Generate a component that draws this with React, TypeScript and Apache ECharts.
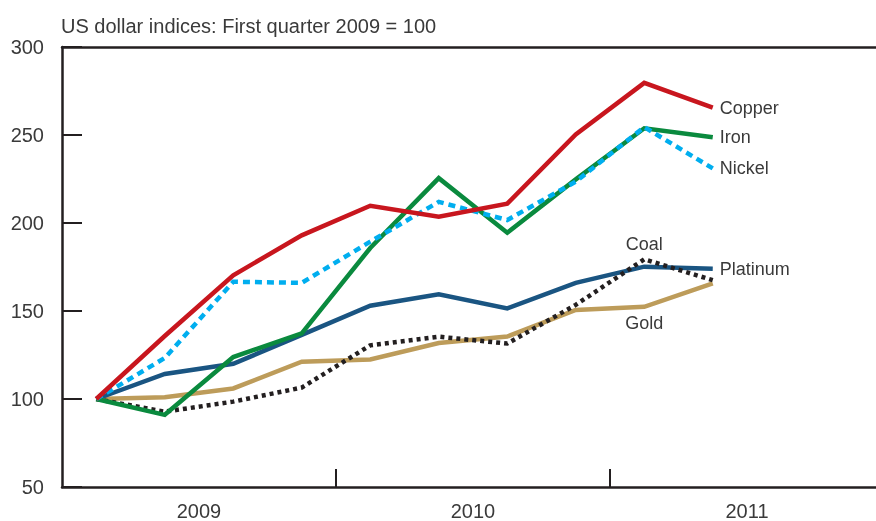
import React, { useEffect, useRef } from "react";
import * as echarts from "echarts";

const quarters = ["2009Q1","2009Q2","2009Q3","2009Q4","2010Q1","2010Q2","2010Q3","2010Q4","2011Q1","2011Q2"];
const yearLabels = ["2009", "2010", "2011"];
const yTicks = [50, 100, 150, 200, 250, 300];

const copper = [100, 135.8, 170.3, 193, 209.8, 203.6, 211, 250.3, 279.6, 265.5];
const iron = [100, 91, 123.8, 137.3, 185.8, 225.5, 194.5, 224.8, 253.8, 248.7];
const nickel = [100, 123.3, 166.6, 166, 189.4, 212, 201.7, 223.5, 254.5, 231];
const platinum = [100, 114.2, 120, 136.4, 153, 159.5, 151.5, 166, 175.2, 174];
const gold = [100, 101, 106, 121.2, 122.5, 131.8, 135.5, 150.6, 152.4, 165.7];
const coal = [100, 92.8, 98.5, 106.5, 130.5, 135.4, 131.5, 153.5, 179.4, 167.5];

const FONT = "Liberation Sans, Arial, sans-serif";
const TEXT = "#3a3a3a";
const AXIS = "#231f20";

export default function App() {
  const ref = useRef<HTMLDivElement>(null);
  useEffect(() => {
    if (!ref.current) return;
    const chart = echarts.init(ref.current, null, { renderer: "svg" });
    const xmax = 814 / 68.5;
    const toPts = (arr: number[]) => arr.map((v, i) => [i + 0.5, v]);
    const labelStyle = { fontSize: 18, color: TEXT, fontFamily: FONT };
    const mk = (name: string, data: any[], color: string, type: any, endLabel: boolean) => ({
      name,
      type: "line",
      data,
      symbol: "circle",
      symbolSize: 2,
      showSymbol: true,
      itemStyle: { color: "rgba(0,0,0,0)", borderWidth: 0 },
      lineStyle: { color, width: 4.5, type, cap: "butt", join: "miter" },
      label: { show: false },
      endLabel: endLabel
        ? { show: true, formatter: name, distance: 7, ...labelStyle }
        : { show: false },
    });
    const coalPts: any[] = toPts(coal);
    coalPts[8] = { value: coalPts[8], label: { show: true, position: "top", distance: 5, formatter: "Coal", ...labelStyle } };
    const goldPts: any[] = toPts(gold);
    goldPts[8] = { value: goldPts[8], label: { show: true, position: "bottom", distance: 6, formatter: "Gold", ...labelStyle } };

    chart.setOption({
      animation: false,
      title: {
        text: "US dollar indices: First quarter 2009 = 100",
        left: 56,
        top: 11,
        textStyle: { fontSize: 20, fontWeight: "normal", color: TEXT, fontFamily: FONT },
      },
      grid: { left: 62, right: 0, top: 47, bottom: 33, containLabel: false },
      xAxis: [
        {
          type: "value", min: 0, max: xmax,
          axisLine: { show: true, lineStyle: { color: AXIS, width: 2.5 } },
          axisTick: { show: true, inside: true, length: 18, customValues: [4, 8], lineStyle: { color: AXIS, width: 2 } },
          splitLine: { show: false },
          axisLabel: {
            margin: 14, fontSize: 20, color: TEXT, fontFamily: FONT,
            customValues: [2, 6, 10],
            formatter: (v: number) => yearLabels[Math.round((v - 2) / 4)] ?? "",
          },
        },
        {
          type: "value", min: 0, max: xmax, position: "top",
          axisLine: { show: true, lineStyle: { color: AXIS, width: 2.5 } },
          axisTick: { show: false },
          axisLabel: { show: false },
          splitLine: { show: false },
        },
      ],
      yAxis: {
        type: "value", min: yTicks[0], max: yTicks[yTicks.length - 1], interval: 50,
        axisLine: { show: true, lineStyle: { color: AXIS, width: 2.5 } },
        axisTick: { show: true, inside: true, length: 20, lineStyle: { color: AXIS, width: 2 } },
        splitLine: { show: false },
        axisLabel: { margin: 18, fontSize: 20, color: TEXT, fontFamily: FONT },
      },
      series: [
        mk("Gold", goldPts, "#bd9c5a", "solid", false),
        mk("Platinum", toPts(platinum), "#1a5582", "solid", true),
        mk("Coal", coalPts, "#231f20", [4, 4], false),
        mk("Iron", toPts(iron), "#0a8a3e", "solid", true),
        mk("Nickel", toPts(nickel), "#00aeef", [7, 5], true),
        mk("Copper", toPts(copper), "#c8161e", "solid", true),
      ],
    });
    return () => chart.dispose();
  }, []);
  return <div ref={ref} style={{ position: "fixed", left: 0, top: 0, width: 876, height: 521 }} />;
}
